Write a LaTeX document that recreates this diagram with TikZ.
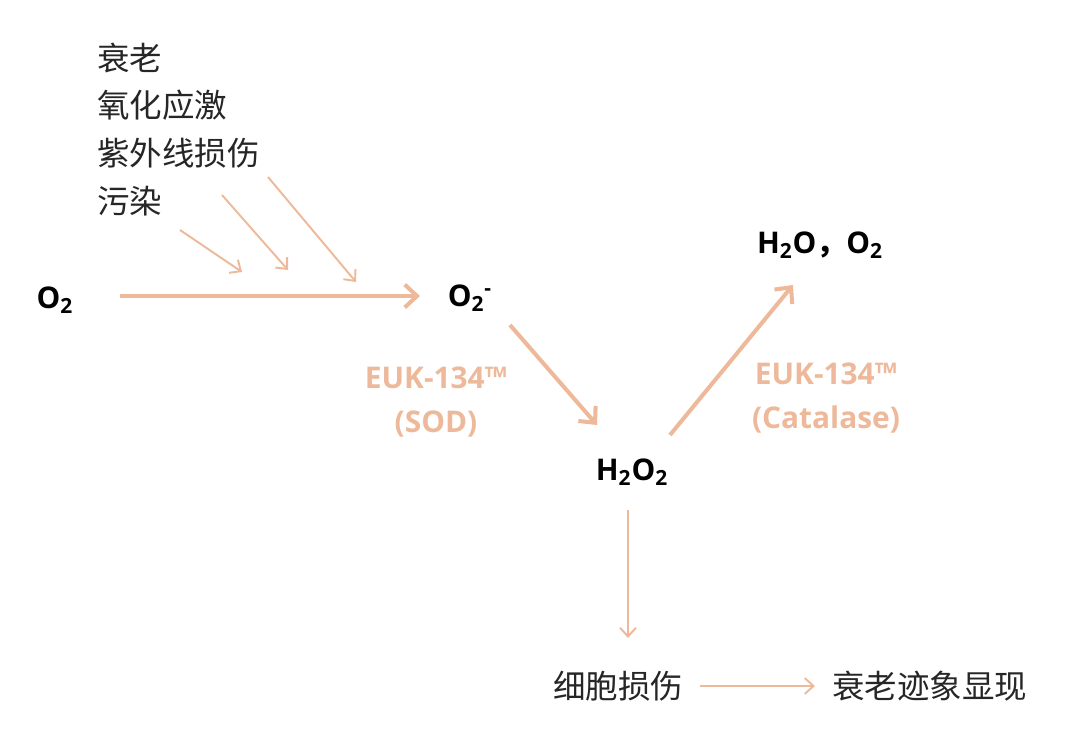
\documentclass[tikz,border=0pt]{standalone}
\usepackage{fontspec}
\setmainfont{Open Sans}
\newfontfamily\cjk{Noto Sans CJK SC}
\usetikzlibrary{arrows.meta}
\definecolor{peach}{HTML}{EDB99A}
\begin{document}
\begin{tikzpicture}[x=0.02cm,y=-0.02cm,
  cn/.style={font=\cjk\fontsize{18.5}{20}\selectfont, text=black!85, inner sep=0pt},
  chem/.style={font=\bfseries\fontsize{17}{19}\selectfont, inner sep=2pt},
  lab/.style={font=\bfseries\fontsize{17}{25}\selectfont, text=peach, align=center},
  arr/.style={draw=peach, line width=2.3pt, -{Straight Barb[length=7pt,width=13pt]}},
  thin/.style={draw=peach, line width=1.1pt, -{Straight Barb[length=5pt,width=9pt]}}]
\useasboundingbox (0,0) rectangle (1080,728);
\node[cn, anchor=west] (t1) at (97,58) {衰老};
\node[cn, anchor=west] (t2) at (97,105) {氧化应激};
\node[cn, anchor=west] (t3) at (97,153) {紫外线损伤};
\node[cn, anchor=west] (t4) at (97,201) {污染};
\node[chem] (o2) at (55,300) {O\textsubscript{2}};
\node[chem] (o2m) at (470,298) {O\textsubscript{2}\textsuperscript{-}};
\node[chem] (h2o2) at (632,472) {H\textsubscript{2}O\textsubscript{2}};
\node[chem] (prod) at (820,245) {H\textsubscript{2}O{\cjk ，}O\textsubscript{2}};
\node[lab] (l1) at (436,402) {EUK-134\texttrademark\\(SOD)};
\node[lab] (l2) at (826,398) {EUK-134\texttrademark\\(Catalase)};
\node[cn, anchor=west] (cd) at (553,686) {细胞损伤};
\node[cn, anchor=west] (ag) at (832,686) {衰老迹象显现};
\coordinate (m1) at (120,296); \coordinate (m2) at (420,296);
\draw[arr] (m1) -- (m2);
\coordinate (a1) at (180,230); \coordinate (b1) at (242,272);
\coordinate (a2) at (222,195); \coordinate (b2) at (288,270);
\coordinate (a3) at (268,177); \coordinate (b3) at (356,282);
\draw[thin] (a1) -- (b1);
\draw[thin] (a2) -- (b2);
\draw[thin] (a3) -- (b3);
\coordinate (s1) at (510,325); \coordinate (s2) at (597,425);
\draw[arr] (s1) -- (s2);
\coordinate (c1) at (670,435); \coordinate (c2) at (793,285);
\draw[arr] (c1) -- (c2);
\coordinate (d1) at (628,510); \coordinate (d2) at (628,638);
\draw[thin] (d1) -- (d2);
\coordinate (e1) at (700,686); \coordinate (e2) at (815,686);
\draw[thin] (e1) -- (e2);
\end{tikzpicture}
\end{document}
